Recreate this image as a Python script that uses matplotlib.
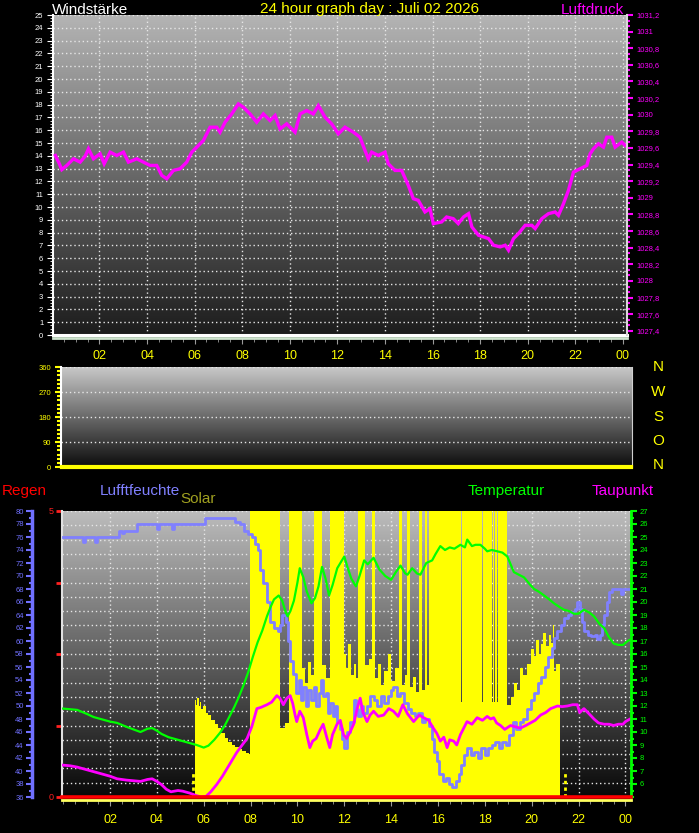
import matplotlib
matplotlib.use('Agg')
import matplotlib.pyplot as plt
import numpy as np
from matplotlib.colors import LinearSegmentedColormap
from matplotlib.ticker import MultipleLocator, FixedLocator, FuncFormatter

plt.rcParams['font.family'] = ['Liberation Sans', 'DejaVu Sans']

# ---------------- data ----------------
hour_ticks = [2, 4, 6, 8, 10, 12, 14, 16, 18, 20, 22, 24]
hour_labels = ['02', '04', '06', '08', '10', '12', '14', '16', '18', '20', '22', '00']

title_text = '24 hour graph day : Juli 02 2026'

# Luftdruck (hPa)
press_hours = [0.15, 0.30, 0.42, 0.63, 0.91, 1.19, 1.40, 1.54, 1.75, 2.03, 2.20, 2.45, 2.73, 3.01, 3.22,
               3.57, 3.85, 4.13, 4.41, 4.62, 4.83, 5.11, 5.39, 5.67, 5.88, 6.09, 6.37, 6.65, 6.93, 7.07,
               7.28, 7.56, 7.84, 8.05, 8.33, 8.61, 8.89, 9.17, 9.38, 9.59, 9.87, 10.22, 10.43, 10.71,
               10.99, 11.20, 11.48, 11.76, 12.04, 12.32, 12.67, 12.95, 13.16, 13.30, 13.44, 13.72, 14.00,
               14.14, 14.42, 14.70, 14.98, 15.19, 15.40, 15.68, 15.89, 16.03, 16.38, 16.59, 16.87, 17.08,
               17.30, 17.51, 17.65, 17.93, 18.14, 18.35, 18.56, 18.84, 19.05, 19.19, 19.40, 19.61, 19.89,
               20.17, 20.31, 20.59, 20.87, 21.15, 21.29, 21.50, 21.71, 21.92, 22.20, 22.48, 22.62, 22.76,
               22.97, 23.18, 23.32, 23.53, 23.67, 23.95, 24.10]
press_hpa = [1029.51, 1029.42, 1029.34, 1029.39, 1029.47, 1029.43, 1029.50, 1029.59, 1029.47, 1029.53, 1029.41,
             1029.55, 1029.51, 1029.55, 1029.43, 1029.47, 1029.43, 1029.39, 1029.39, 1029.27, 1029.23,
             1029.33, 1029.35, 1029.43, 1029.55, 1029.61, 1029.69, 1029.85, 1029.85, 1029.79, 1029.91,
             1030.01, 1030.13, 1030.09, 1030.01, 1029.91, 1030.01, 1029.93, 1029.99, 1029.83, 1029.89,
             1029.79, 1030.01, 1030.05, 1030.01, 1030.11, 1029.97, 1029.89, 1029.77, 1029.85, 1029.79,
             1029.73, 1029.57, 1029.47, 1029.55, 1029.51, 1029.55, 1029.41, 1029.33, 1029.33, 1029.15,
             1028.99, 1028.97, 1028.83, 1028.87, 1028.69, 1028.71, 1028.77, 1028.75, 1028.69, 1028.77,
             1028.81, 1028.65, 1028.55, 1028.53, 1028.51, 1028.43, 1028.41, 1028.43, 1028.37, 1028.51,
             1028.57, 1028.67, 1028.67, 1028.63, 1028.75, 1028.81, 1028.83, 1028.79, 1028.93, 1029.09,
             1029.31, 1029.35, 1029.39, 1029.53, 1029.59, 1029.65, 1029.61, 1029.73, 1029.73, 1029.61,
             1029.67, 1029.63]

# Windstärke / Windrichtung (no wind all day)
wind_hours = [0.05, 24.17]
wind_speed = [0, 0]
wind_dir_deg = [0, 0]

# Luftfeuchte (%)
hum_hours = [0.0, 0.8, 0.85, 0.95, 1.3, 1.35, 1.45, 2.3, 2.4, 2.5, 2.6, 3.1, 3.15, 3.95, 4.0, 4.1, 4.6, 4.65,
             4.75, 6.0, 6.05, 7.25, 7.35, 7.55, 7.7, 7.9, 8.05, 8.2, 8.3, 8.4, 8.55, 8.7, 8.85, 9.0, 9.15,
             9.25, 9.35, 9.5, 9.6, 9.7, 9.83, 9.95, 10.05, 10.15, 10.25, 10.35, 10.45, 10.6, 10.7, 10.8,
             10.9, 11.0, 11.1, 11.2, 11.3, 11.4, 11.5, 11.6, 11.7, 11.8, 11.9, 12.0, 12.1, 12.25, 12.4,
             12.5, 12.6, 12.7, 12.8, 12.95, 13.1, 13.25, 13.4, 13.55, 13.7, 13.85, 14.0, 14.1, 14.25,
             14.4, 14.55, 14.7, 14.85, 15.0, 15.15, 15.3, 15.45, 15.6, 15.75, 15.85, 15.95, 16.05, 16.2,
             16.35, 16.45, 16.6, 16.75, 16.9, 17.0, 17.1, 17.25, 17.4, 17.55, 17.7, 17.85, 18.0, 18.15,
             18.3, 18.45, 18.6, 18.75, 18.9, 19.05, 19.2, 19.35, 19.5, 19.65, 19.8, 19.95, 20.1, 20.25,
             20.4, 20.55, 20.7, 20.85, 20.95, 21.1, 21.25, 21.4, 21.55, 21.7, 21.85, 21.95, 22.05, 22.15,
             22.25, 22.4, 22.55, 22.7, 22.8, 22.9, 23.0, 23.1, 23.2, 23.3, 23.45, 23.65, 23.8, 23.9, 24.2]
hum_pct = [76, 76, 75.3, 76, 76, 75.3, 76, 76, 77, 76.6, 77, 77, 78, 78, 77.2, 78, 78, 77.2,
           78, 78, 79, 79, 78.3, 78, 77, 76.5, 76, 75, 74, 71, 69, 66, 63, 62, 61.5,
           62.5, 64, 63, 60, 57, 55, 52, 54, 51, 53, 50, 52.5, 51, 53, 50,
           52, 54, 51.5, 52, 49, 50.5, 48.5, 50, 47.5, 46.5, 45, 43.5, 46, 47.5, 51,
           49.5, 48.5, 50, 49, 50, 51.5, 51, 50, 51.5, 50.5, 51.5, 52.5, 53, 51.5,
           52, 50.5, 49.5, 49, 48.5, 49, 47.5, 48, 47, 45, 43, 41.5, 39.5, 38.5,
           39, 38, 37.5, 38.5, 39.5, 41, 42.5, 43.5, 42.5, 43, 42, 43.5, 42.5, 43.5,
           44, 44.5, 43.5, 44.5, 44, 45.5, 47.5, 46.5, 47.5, 48, 49.5, 51, 52, 53.5,
           54.5, 56, 57.5, 59, 60.5, 61.5, 62.5, 63.5, 64, 64.5, 65, 66, 65, 63,
           61.5, 61, 60.8, 61, 60.3, 61, 62.5, 64, 66, 67.5, 68, 68, 67.2, 68, 68]

# Temperatur (°C)
temp_hours = [0.0, 0.3, 0.6, 1.0, 1.3, 1.6, 2.0, 2.3, 2.7, 3.0, 3.3, 3.6, 3.8, 4.0, 4.2, 4.5, 4.8, 5.1,
              5.4, 5.7, 6.0, 6.2, 6.45, 6.7, 6.9, 7.1, 7.3, 7.5, 7.7, 7.9, 8.1, 8.3, 8.5, 8.7, 8.85,
              9.0, 9.2, 9.35, 9.5, 9.58, 9.7, 9.85, 10.0, 10.1, 10.25, 10.4, 10.6, 10.75, 10.9, 11.05,
              11.2, 11.35, 11.5, 11.7, 11.9, 12.0, 12.15, 12.3, 12.5, 12.65, 12.85, 13.0, 13.25, 13.5,
              13.75, 14.0, 14.2, 14.4, 14.6, 14.7, 14.9, 15.1, 15.25, 15.5, 15.75, 15.9, 16.1, 16.3,
              16.5, 16.7, 16.96, 17.15, 17.25, 17.45, 17.6, 17.81, 18.0, 18.1, 18.3, 18.53, 18.75,
              18.96, 19.1, 19.24, 19.45, 19.67, 19.9, 20.1, 20.3, 20.53, 20.75, 20.95, 21.2, 21.38,
              21.6, 21.8, 22.0, 22.23, 22.45, 22.66, 22.9, 23.09, 23.3, 23.5, 23.7, 23.9, 24.1, 24.2]
temp_c = [11.8, 11.75, 11.7, 11.4, 11.15, 11.0, 10.8, 10.7, 10.4, 10.2, 10.0, 10.25, 10.3, 10.1, 9.85, 9.6,
          9.45, 9.3, 9.15, 9.0, 8.8, 8.95, 9.4, 9.95, 10.5, 11.2, 11.9, 12.7, 13.6, 14.6, 15.8, 16.9,
          17.8, 18.9, 19.6, 20.2, 20.5, 20.1, 19.2, 18.9, 19.3, 20.1, 21.5, 22.6, 21.9, 20.8, 19.9,
          20.3, 21.2, 22.7, 21.8, 20.5, 21.3, 22.6, 23.2, 23.5, 22.6, 21.8, 21.2, 22.0, 23.2, 22.9,
          23.4, 22.5, 22.0, 21.7, 22.3, 22.8, 22.2, 22.1, 22.6, 22.2, 22.1, 23.0, 23.2, 23.7, 24.3,
          24.0, 24.2, 24.1, 24.4, 24.2, 24.8, 24.3, 24.4, 24.4, 24.1, 23.9, 24.0, 23.9, 23.8, 23.5,
          22.9, 22.3, 22.1, 21.9, 21.4, 21.0, 20.8, 20.5, 20.2, 19.9, 19.6, 19.4, 19.3, 19.1, 19.1,
          19.4, 19.2, 18.9, 18.3, 18.0, 17.3, 16.8, 16.7, 16.7, 17.0, 17.1]

# Taupunkt (°C)
dew_hours = [0.0, 0.3, 0.6, 0.9, 1.3, 1.6, 2.0, 2.3, 2.7, 3.0, 3.3, 3.6, 3.8, 4.0, 4.2, 4.4, 4.6, 4.9,
             5.1, 5.4, 5.7, 5.9, 6.1, 6.3, 6.55, 6.8, 7.0, 7.2, 7.4, 7.6, 7.85, 8.05, 8.27, 8.45, 8.7,
             8.9, 9.12, 9.25, 9.4, 9.55, 9.69, 9.8, 9.9, 9.97, 10.1, 10.25, 10.4, 10.53, 10.65, 10.8,
             10.95, 11.1, 11.25, 11.38, 11.5, 11.69, 11.83, 11.97, 12.1, 12.25, 12.4, 12.55, 12.68,
             12.8, 12.97, 13.1, 13.25, 13.45, 13.68, 13.9, 14.1, 14.3, 14.5, 14.7, 14.96, 15.2, 15.39,
             15.6, 15.8, 15.95, 16.1, 16.25, 16.39, 16.5, 16.67, 16.8, 16.96, 17.1, 17.24, 17.45,
             17.67, 17.9, 18.1, 18.25, 18.38, 18.5, 18.67, 18.85, 19.1, 19.3, 19.52, 19.75, 19.95,
             20.15, 20.38, 20.6, 20.81, 21.1, 21.3, 21.52, 21.75, 21.95, 22.05, 22.23, 22.45, 22.66,
             22.85, 23.09, 23.3, 23.5, 23.7, 23.9, 24.0, 24.2]
dew_c = [7.45, 7.4, 7.3, 7.15, 6.95, 6.8, 6.6, 6.4, 6.3, 6.25, 6.2, 6.35, 6.4, 6.2, 5.95, 5.6, 5.4, 5.5,
         5.45, 5.3, 5.1, 5.0, 5.05, 5.4, 5.95, 6.6, 7.2, 7.8, 8.4, 8.9, 9.5, 10.4, 11.8, 11.9, 12.1,
         12.3, 12.8, 12.6, 12.1, 12.6, 12.8, 12.2, 11.3, 10.8, 11.6, 11.1, 9.8, 8.8, 9.3, 9.5,
         10.1, 10.6, 9.6, 8.8, 9.8, 10.6, 10.9, 9.8, 9.5, 10.0, 10.6, 11.8, 12.6,
         11.5, 10.8, 11.3, 11.6, 11.2, 11.3, 11.8, 11.6, 11.2, 12.1, 11.4, 10.8, 11.3, 11.1,
         10.9, 10.3, 9.9, 9.3, 9.6, 8.8, 9.4, 9.3, 9.0, 9.8, 10.3, 10.8, 10.6,
         11.1, 10.9, 11.2, 11.0, 11.1, 10.7, 10.5, 10.2, 10.5, 10.4, 10.3, 10.5, 10.7,
         10.9, 11.3, 11.5, 11.8, 12.0, 11.95, 12.0, 12.1, 12.1, 11.5, 11.8, 11.4, 11.0,
         10.7, 10.6, 10.6, 10.5, 10.6, 10.6, 10.8, 11.0]

# Solar (W/m², step values, scale top = 300)
solar_hours = [0.00, 5.63, 5.68, 5.72, 5.78, 5.84, 5.90, 5.98, 6.08, 6.20, 6.33, 6.47, 6.60, 6.75, 6.90,
               7.05, 7.20, 7.35, 7.50, 7.65, 7.80, 7.92, 7.98, 9.25, 9.45, 9.62, 10.20, 10.32, 10.45,
               10.58, 10.72, 11.07, 11.20, 11.37, 11.97, 12.08, 12.18, 12.30, 12.42, 12.52, 12.60,
               12.90, 13.05, 13.18, 13.32, 13.45, 13.58, 13.70, 13.85, 14.00, 14.15, 14.32, 14.46,
               14.58, 14.68, 14.82, 14.95, 15.08, 15.18, 15.32, 15.45, 15.52, 15.60, 15.64, 15.67,
               16.98, 17.03, 17.90, 17.94, 18.30, 18.34, 18.40, 18.43, 18.52, 18.55, 18.67, 18.70,
               18.84, 18.87, 18.95, 19.10, 19.25, 19.38, 19.50, 19.65, 19.80, 19.95, 20.08, 20.20,
               20.30, 20.38, 20.50, 20.62, 20.72, 20.82, 20.90, 20.95, 21.05, 21.21, 24.24]
solar_wm2 = [0, 102, 96, 104, 95, 100, 92, 95, 88, 86, 81, 77, 72, 67, 62,
             58, 55, 52, 50, 48, 46, 45, 650, 72, 78, 650, 135, 120, 142,
             128, 650, 138, 125, 650, 150, 135, 160, 128, 140, 125, 650,
             138, 145, 650, 125, 140, 118, 132, 150, 122, 135, 650, 118,
             128, 650, 115, 126, 110, 650, 112, 650, 118, 650, 120, 650,
             100, 650, 100, 650, 100, 650, 100, 650, 100, 650, 100, 650,
             100, 650, 96, 105, 120, 112, 135, 128, 140, 155, 148, 165,
             150, 160, 172, 158, 170, 162, 180, 132, 140, 0, 0]

sun_marks = [5.53, 21.42]   # sunrise / sunset markers

# Regen (mm)
rain_hours = [-0.05, 24.24]
rain_mm = [0, 0]

# ---------------- figure ----------------
W, H = 699, 833
fig = plt.figure(figsize=(W / 100, H / 100), dpi=100)
fig.patch.set_facecolor('black')
PT = 0.72


def rect(l, t, r, b):
    return [l / W, 1 - b / H, (r - l) / W, (b - t) / H]


def gradient(ax, top, bottom, xl, yl):
    g = np.linspace(0, 1, 256).reshape(-1, 1)
    cmap = LinearSegmentedColormap.from_list('g', [bottom, top])
    ax.imshow(g, extent=(xl[0], xl[1], yl[0], yl[1]), origin='lower', aspect='auto',
              cmap=cmap, zorder=0, interpolation='bilinear')
    ax.set_xlim(xl)
    ax.set_ylim(yl)


DOT = (0, (1, 2))
GRIDC = '#e6e6e6'
SMALL = 5.5

# ---------- top panel ----------
xl1 = (0.05, 24.17)
ax1 = fig.add_axes(rect(53, 15, 627, 335))
gradient(ax1, '#b4b4b4', '#1c1c1c', xl1, (0, 25))
ax1.set_yticks(range(0, 26))
ax1.yaxis.set_minor_locator(MultipleLocator(0.25))
ax1.set_xticks(hour_ticks)
ax1.set_xticklabels(hour_labels)
ax1.xaxis.set_minor_locator(MultipleLocator(0.5))
ax1.grid(True, which='major', color=GRIDC, linestyle=DOT, linewidth=1)
ax1.tick_params(axis='y', which='both', colors='white', labelsize=SMALL, direction='out', pad=3)
ax1.tick_params(axis='y', which='major', length=4)
ax1.tick_params(axis='y', which='minor', length=2)
ax1.tick_params(axis='x', which='both', colors='#9a9a9a', labelcolor='yellow', labelsize=9,
                direction='out', pad=4)
ax1.tick_params(axis='x', which='major', length=4)
ax1.tick_params(axis='x', which='minor', length=3)
ax1.spines['top'].set_visible(False)
ax1.spines['left'].set_color('white')
ax1.spines['left'].set_linewidth(1.5)
ax1.spines['bottom'].set_color('#cfe6cf')
ax1.spines['bottom'].set_linewidth(2)
ax1.spines['bottom'].set_position(('outward', 2.5))
ax1.spines['right'].set_visible(False)
ax1.plot(wind_hours, wind_speed, color='white', lw=2.2, clip_on=False, zorder=5)

ax1r = ax1.twinx()
ax1r.set_ylim(1027.35, 1031.2)
ax1r.set_xlim(xl1)
pt_ticks = [round(1027.4 + 0.2 * i, 1) for i in range(20)]
ax1r.yaxis.set_major_locator(FixedLocator(pt_ticks))
ax1r.yaxis.set_minor_locator(MultipleLocator(0.2 / 3))


def pfmt(v, pos):
    s = f"{v:.1f}"
    if s.endswith('.0'):
        s = s[:-2]
    return s.replace('.', ',')


ax1r.yaxis.set_major_formatter(FuncFormatter(pfmt))
ax1r.tick_params(axis='y', which='both', colors='#ff00ff', labelsize=SMALL, direction='out', pad=3)
ax1r.tick_params(axis='y', which='major', length=4, width=1.5)
ax1r.tick_params(axis='y', which='minor', length=2.5, width=1.5)
for s in ['top', 'left', 'bottom']:
    ax1r.spines[s].set_visible(False)
ax1r.spines['right'].set_color('#d8d8d8')
ax1r.spines['right'].set_linewidth(1.5)
ax1r.plot(press_hours, press_hpa, color='#ff00ff', lw=2.4, solid_joinstyle='miter')

fig.text(52 / W, 1 - 13.5 / H, 'Windstärke', color='white', fontsize=11, ha='left', va='baseline')
fig.text(370 / W, 1 - 13.5 / H, title_text, color='#ffff00', fontsize=11, ha='center', va='baseline')
fig.text(624 / W, 1 - 13.5 / H, 'Luftdruck', color='#ff00ff', fontsize=11, ha='right', va='baseline')

# ---------- middle panel ----------
ax2 = fig.add_axes(rect(61, 367, 632, 467))
gradient(ax2, '#c8c8c8', '#0c0c0c', (0.0, 24.2), (0, 360))
ax2.set_yticks([0, 90, 180, 270, 360])
ax2.yaxis.set_minor_locator(MultipleLocator(15))
ax2.set_xticks([])
ax2.grid(True, axis='y', which='major', color=GRIDC, linestyle=DOT, linewidth=1)
ax2.tick_params(axis='y', which='both', colors='#ffff00', labelsize=SMALL, direction='out', pad=3)
ax2.tick_params(axis='y', which='major', length=4, width=1.5)
ax2.tick_params(axis='y', which='minor', length=3, width=1.5)
ax2.spines['top'].set_visible(False)
ax2.spines['bottom'].set_visible(False)
ax2.spines['left'].set_color('white')
ax2.spines['left'].set_linewidth(1.5)
ax2.spines['right'].set_color('#d0d0d0')
ax2.plot(wind_hours, wind_dir_deg, color='#ffff00', lw=3, clip_on=False, zorder=5)

for lab, yy in zip(['N', 'W', 'S', 'O', 'N'], [367, 392, 417, 441, 465]):
    fig.text(658 / W, 1 - yy / H, lab, color='#ffff00', fontsize=11, ha='center', va='center')

# ---------- bottom panel ----------
xl3 = (-0.05, 24.24)
ax3 = fig.add_axes(rect(62, 511, 631, 797))
gradient(ax3, '#bcbcbc', '#080808', xl3, (0, 5))
ax3.set_yticks([0, 1.25, 2.5, 3.75, 5])
ax3.set_yticklabels(['0', '', '', '', '5'])
ax3.yaxis.set_minor_locator(MultipleLocator(0.25))
ax3.set_xticks(hour_ticks)
ax3.set_xticklabels(hour_labels)
ax3.xaxis.set_minor_locator(MultipleLocator(0.5))
ax3.grid(True, axis='y', which='both', color=GRIDC, linestyle=DOT, linewidth=1)
ax3.grid(True, axis='x', which='major', color=GRIDC, linestyle=DOT, linewidth=1)
ax3.tick_params(axis='y', which='major', colors='#ff2020', labelsize=6.5, direction='out',
                length=4, width=2, pad=2)
ax3.tick_params(axis='y', which='minor', length=0)
ax3.tick_params(axis='x', which='both', colors='#9a9a9a', labelcolor='yellow', labelsize=9,
                direction='out', pad=6)
ax3.tick_params(axis='x', which='major', length=4)
ax3.tick_params(axis='x', which='minor', length=3)
ax3.spines['top'].set_visible(False)
ax3.spines['right'].set_visible(False)
ax3.spines['left'].set_color('#e0e0e0')
ax3.spines['left'].set_linewidth(1.5)
ax3.spines['bottom'].set_color('#ffff60')
ax3.spines['bottom'].set_linewidth(2)
ax3.spines['bottom'].set_position(('outward', 2))

# solar
ax3s = ax3.twinx()
ax3s.set_ylim(0, 300)
ax3s.set_xlim(xl3)
ax3s.fill_between(solar_hours, solar_wm2, 0, step='post', color='#ffff00', linewidth=0)
for h in sun_marks:
    ax3s.axvline(h, ymin=0, ymax=0.09, color='#ffff00', lw=2, linestyle=(0, (1.2, 1.2)))
ax3s.axis('off')

# humidity
ax3h = ax3.twinx()
ax3h.set_ylim(36, 80)
ax3h.set_xlim(xl3)
ax3h.yaxis.set_ticks_position('left')
ax3h.yaxis.set_label_position('left')
ax3h.spines['left'].set_visible(True)
ax3h.spines['left'].set_position(('outward', 30 * PT))
ax3h.spines['left'].set_color('#7070ff')
ax3h.spines['left'].set_linewidth(2.5)
for s in ['top', 'right', 'bottom']:
    ax3h.spines[s].set_visible(False)
ax3h.set_yticks(range(36, 81, 2))
ax3h.yaxis.set_minor_locator(MultipleLocator(1))
ax3h.tick_params(axis='y', which='both', colors='#7070ff', labelsize=SMALL, direction='out', pad=2,
                 width=1.5)
ax3h.tick_params(axis='y', which='major', length=4)
ax3h.tick_params(axis='y', which='minor', length=2)
ax3h.plot(hum_hours, hum_pct, color='#8080ff', lw=2, drawstyle='steps-post')

# temperature / dew point
ax3t = ax3.twinx()
ax3t.set_ylim(5, 27)
ax3t.set_xlim(xl3)
ax3t.set_yticks(range(6, 28))
ax3t.yaxis.set_minor_locator(MultipleLocator(0.5))
ax3t.tick_params(axis='y', which='both', colors='#00ff00', labelsize=SMALL, direction='out', pad=2,
                 width=1.5)
ax3t.tick_params(axis='y', which='major', length=4)
ax3t.tick_params(axis='y', which='minor', length=2.5)
for s in ['top', 'left', 'bottom']:
    ax3t.spines[s].set_visible(False)
ax3t.spines['right'].set_color('#00ff00')
ax3t.spines['right'].set_linewidth(2)
ax3t.plot(dew_hours, dew_c, color='#ff00ff', lw=2)
ax3t.plot(temp_hours, temp_c, color='#00ff00', lw=1.6)

# rain
ax3r = ax3.twinx()
ax3r.set_ylim(0, 5)
ax3r.set_xlim(xl3)
ax3r.plot(rain_hours, rain_mm, color='#ff0000', lw=2.6, clip_on=False)
ax3r.axis('off')

fig.text(2 / W, 1 - 495.5 / H, 'Regen', color='#ff0000', fontsize=11, ha='left', va='baseline')
fig.text(100 / W, 1 - 495.5 / H, 'Lufftfeuchte', color='#8080ff', fontsize=11, ha='left', va='baseline')
fig.text(180 / W, 1 - 503.3 / H, 'Solar', color='#a0a020', fontsize=11, ha='left', va='baseline')
fig.text(468 / W, 1 - 495.5 / H, 'Temperatur', color='#00ff00', fontsize=11, ha='left', va='baseline')
fig.text(592 / W, 1 - 495.5 / H, 'Taupunkt', color='#ff00ff', fontsize=11, ha='left', va='baseline')

fig.savefig('out.png', dpi=100, facecolor='black')
